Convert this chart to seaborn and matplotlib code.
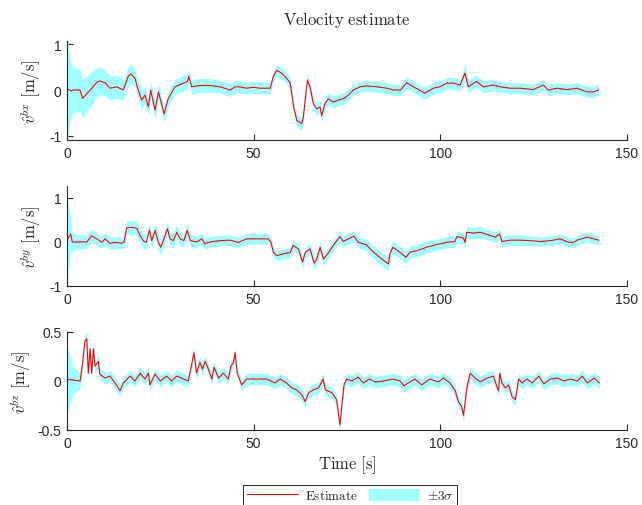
import numpy as np
import pandas as pd
import matplotlib
matplotlib.use("Agg")
import matplotlib.pyplot as plt
import seaborn as sns
from matplotlib.lines import Line2D
from matplotlib.patches import Patch

# ---------------- data ----------------
t_x = [0.0, 0.3, 1.0, 1.7, 3.5, 4.2, 6.2, 7.9, 8.8, 10.2,
       11.5, 13.3, 15.1, 16.4, 17.1, 18.2, 19.1, 20.0, 20.9, 21.8,
       22.4, 23.6, 24.5, 26.0, 27.1, 28.9, 31.2, 32.3, 32.6, 33.4,
       35.6, 38.3, 41.0, 43.7, 45.0, 46.3, 48.1, 49.9, 51.7, 54.4,
       55.3, 56.2, 57.5, 58.8, 59.8, 60.7, 61.6, 62.9, 63.3, 64.1,
       64.4, 65.1, 66.0, 66.9, 67.8, 68.2, 69.1, 70.0, 71.3, 72.7,
       74.0, 75.4, 76.7, 78.5, 80.3, 83.0, 85.7, 87.5, 89.3, 91.0,
       92.8, 95.9, 98.1, 99.9, 101.7, 103.5, 105.3, 106.6, 107.5, 109.7,
       111.5, 114.2, 116.0, 118.6, 121.3, 124.9, 127.6, 128.9, 131.2, 133.9,
       136.6, 139.2, 141.0, 142.4]
v_x = [0.00, 0.02, -0.02, 0.00, 0.00, -0.18, 0.00, 0.16, 0.20, 0.16,
       0.04, 0.07, 0.00, 0.30, 0.35, 0.26, 0.00, -0.22, -0.11, -0.37,
       0.00, -0.44, -0.04, -0.52, -0.19, 0.07, 0.15, 0.19, 0.30, 0.07,
       0.10, 0.10, 0.07, 0.00, 0.07, 0.07, 0.04, 0.06, 0.04, 0.04,
       0.30, 0.43, 0.37, 0.26, 0.15, -0.37, -0.67, -0.73, -0.59, 0.00,
       0.22, 0.07, -0.30, -0.41, -0.37, -0.56, -0.30, -0.19, -0.26, -0.22,
       -0.19, -0.11, 0.00, 0.07, 0.09, 0.07, 0.04, 0.00, 0.00, 0.16,
       0.07, -0.07, 0.04, 0.07, 0.15, 0.15, 0.11, 0.37, 0.07, 0.19,
       0.07, 0.11, 0.07, 0.04, 0.04, 0.01, 0.11, 0.00, 0.04, 0.01,
       0.04, -0.04, -0.04, 0.00]
s_x = [1.25, 1.00, 0.60, 0.50, 0.45, 0.42, 0.36, 0.32, 0.30, 0.28,
       0.27, 0.25, 0.23, 0.22, 0.21, 0.20, 0.20, 0.20, 0.19, 0.19,
       0.19, 0.19, 0.18, 0.18, 0.18, 0.17, 0.17, 0.16, 0.16, 0.16,
       0.15, 0.15, 0.14, 0.14, 0.14, 0.14, 0.13, 0.13, 0.13, 0.13,
       0.13, 0.13, 0.13, 0.13, 0.13, 0.14, 0.15, 0.15, 0.15, 0.14,
       0.14, 0.14, 0.14, 0.14, 0.14, 0.14, 0.14, 0.13, 0.13, 0.13,
       0.13, 0.13, 0.12, 0.12, 0.12, 0.12, 0.12, 0.12, 0.12, 0.13,
       0.12, 0.13, 0.13, 0.13, 0.13, 0.13, 0.13, 0.20, 0.14, 0.13,
       0.13, 0.13, 0.12, 0.12, 0.12, 0.12, 0.12, 0.12, 0.12, 0.12,
       0.12, 0.12, 0.12, 0.12]

t_y = [0.0, 0.3, 1.0, 1.4, 3.5, 5.3, 6.6, 8.0, 9.3, 10.2,
       11.5, 13.3, 14.6, 15.3, 16.0, 17.3, 18.7, 19.6, 20.4, 21.2,
       22.1, 22.7, 23.6, 24.5, 25.1, 25.8, 26.9, 27.6, 28.5, 29.4,
       30.3, 31.3, 32.2, 33.1, 34.7, 36.1, 37.0, 38.3, 41.0, 43.7,
       45.9, 48.1, 50.8, 53.9, 54.6, 55.3, 56.2, 58.0, 59.8, 60.6,
       62.0, 63.1, 63.8, 65.1, 66.2, 66.9, 67.8, 68.7, 70.0, 71.3,
       73.1, 74.0, 75.8, 76.9, 78.0, 80.1, 82.1, 83.9, 86.1, 86.5,
       87.3, 88.3, 89.7, 90.8, 91.9, 93.7, 96.3, 99.0, 101.7, 103.9,
       104.4, 106.2, 106.6, 107.1, 108.9, 110.7, 112.5, 114.7, 115.9, 116.5,
       118.7, 121.4, 124.1, 126.8, 129.5, 132.1, 134.4, 135.7, 136.6, 139.3,
       141.1, 142.5]
v_y = [0.00, 0.09, 0.18, 0.00, 0.00, 0.00, 0.14, 0.07, -0.01, 0.07,
       -0.03, -0.01, -0.03, 0.00, 0.32, 0.33, 0.31, 0.14, 0.03, -0.01,
       0.27, 0.03, 0.26, -0.01, -0.12, 0.03, 0.30, 0.07, 0.03, 0.22,
       0.07, 0.03, 0.26, 0.03, 0.00, 0.07, -0.04, 0.00, 0.03, 0.04,
       -0.01, 0.07, 0.07, 0.07, 0.00, -0.24, -0.31, -0.27, -0.24, -0.08,
       -0.16, -0.46, -0.24, -0.16, -0.48, -0.39, -0.12, -0.39, -0.25, -0.08,
       0.12, 0.01, 0.09, 0.13, -0.01, -0.06, -0.23, -0.36, -0.50, -0.27,
       -0.12, -0.18, -0.27, -0.35, -0.23, -0.20, -0.12, -0.06, -0.01, 0.01,
       0.12, 0.09, -0.01, 0.22, 0.20, 0.22, 0.17, 0.11, 0.18, 0.01,
       0.04, 0.04, 0.03, 0.01, 0.03, 0.07, -0.01, -0.01, 0.04, 0.11,
       0.07, 0.04]
s_y = [1.15, 0.80, 0.40, 0.20, 0.16, 0.15, 0.15, 0.14, 0.14, 0.14,
       0.14, 0.13, 0.13, 0.14, 0.16, 0.16, 0.16, 0.17, 0.17, 0.17,
       0.17, 0.17, 0.17, 0.18, 0.18, 0.17, 0.17, 0.16, 0.16, 0.16,
       0.15, 0.15, 0.15, 0.14, 0.13, 0.13, 0.13, 0.12, 0.12, 0.12,
       0.12, 0.12, 0.12, 0.12, 0.12, 0.12, 0.12, 0.12, 0.12, 0.12,
       0.13, 0.14, 0.13, 0.13, 0.14, 0.14, 0.13, 0.14, 0.13, 0.13,
       0.13, 0.13, 0.13, 0.13, 0.13, 0.13, 0.14, 0.15, 0.16, 0.15,
       0.14, 0.14, 0.14, 0.14, 0.14, 0.14, 0.13, 0.13, 0.13, 0.13,
       0.13, 0.13, 0.13, 0.13, 0.13, 0.13, 0.12, 0.12, 0.12, 0.12,
       0.12, 0.12, 0.11, 0.11, 0.11, 0.11, 0.11, 0.11, 0.11, 0.11,
       0.11, 0.11]

t_z = [0.0, 1.7, 3.5, 4.2, 4.8, 5.3, 5.7, 6.2, 6.6, 7.1,
       7.5, 8.4, 8.8, 10.2, 11.5, 12.9, 14.2, 15.1, 16.9, 18.2,
       19.6, 20.9, 21.8, 22.2, 23.6, 25.0, 26.7, 28.0, 29.4, 31.2,
       32.5, 33.4, 34.0, 34.7, 35.6, 36.3, 37.0, 37.9, 38.8, 39.4,
       40.6, 41.9, 43.2, 43.9, 44.6, 45.0, 45.6, 46.8, 48.1, 50.8,
       53.5, 55.7, 57.1, 58.8, 60.2, 61.5, 62.9, 63.8, 64.7, 66.0,
       67.4, 68.6, 69.2, 71.0, 72.2, 72.7, 73.1, 73.6, 74.2, 74.9,
       76.3, 78.0, 79.4, 81.0, 82.5, 84.7, 87.4, 89.2, 90.3, 91.4,
       93.2, 95.0, 97.2, 99.5, 100.8, 102.6, 104.0, 104.8, 105.7, 106.2,
       106.6, 107.1, 108.0, 109.3, 110.7, 112.5, 114.2, 115.1, 115.6, 115.9,
       116.5, 117.4, 118.3, 119.2, 120.1, 121.0, 121.9, 123.2, 124.6, 126.4,
       127.7, 129.5, 131.3, 133.1, 134.9, 136.7, 138.0, 139.4, 141.2, 142.6]
v_z = [0.015, 0.01, 0.00, 0.19, 0.41, 0.43, 0.08, 0.33, 0.08, 0.33,
       0.15, 0.20, 0.07, 0.03, 0.05, -0.02, -0.10, -0.02, 0.05, 0.00,
       0.08, 0.02, 0.08, -0.04, 0.07, 0.00, 0.05, 0.00, 0.05, 0.02,
       0.00, 0.17, 0.29, 0.08, 0.19, 0.12, 0.20, 0.12, 0.02, 0.14,
       0.03, 0.08, 0.02, 0.15, 0.19, 0.29, 0.08, -0.04, 0.02, 0.02,
       0.02, -0.02, 0.02, -0.02, -0.07, -0.09, -0.14, -0.21, -0.12, -0.09,
       -0.07, 0.02, -0.09, -0.12, -0.19, -0.33, -0.45, -0.26, -0.04, 0.02,
       0.00, 0.04, -0.02, 0.02, -0.01, 0.00, 0.02, 0.00, -0.05, -0.02,
       0.02, -0.04, 0.02, -0.01, 0.03, -0.02, -0.10, -0.21, -0.26, -0.35,
       -0.23, -0.07, 0.08, 0.03, -0.01, 0.03, 0.05, -0.05, -0.10, 0.08,
       -0.02, -0.07, -0.04, -0.16, -0.19, 0.02, -0.02, 0.02, -0.02, 0.05,
       -0.03, 0.02, 0.03, 0.00, 0.02, 0.00, 0.05, -0.02, 0.03, -0.02]
s_z = [0.35, 0.14, 0.08, 0.07, 0.07, 0.07, 0.07, 0.07, 0.07, 0.07,
       0.07, 0.07, 0.06, 0.06, 0.06, 0.06, 0.06, 0.06, 0.06, 0.06,
       0.06, 0.06, 0.06, 0.06, 0.06, 0.06, 0.06, 0.06, 0.06, 0.06,
       0.06, 0.06, 0.06, 0.06, 0.06, 0.06, 0.06, 0.06, 0.06, 0.06,
       0.06, 0.06, 0.06, 0.06, 0.06, 0.06, 0.06, 0.06, 0.06, 0.06,
       0.06, 0.06, 0.06, 0.06, 0.06, 0.06, 0.06, 0.06, 0.06, 0.06,
       0.06, 0.06, 0.06, 0.06, 0.06, 0.06, 0.07, 0.06, 0.06, 0.06,
       0.06, 0.06, 0.06, 0.06, 0.06, 0.06, 0.06, 0.06, 0.06, 0.06,
       0.06, 0.06, 0.06, 0.06, 0.06, 0.06, 0.06, 0.06, 0.06, 0.07,
       0.06, 0.06, 0.06, 0.06, 0.06, 0.06, 0.06, 0.06, 0.06, 0.06,
       0.06, 0.06, 0.06, 0.06, 0.06, 0.06, 0.06, 0.06, 0.06, 0.06,
       0.06, 0.06, 0.06, 0.06, 0.06, 0.06, 0.06, 0.06, 0.06, 0.06]

y_labels = [r"$\hat{v}^{bx}\ [\mathrm{m/s}]$",
            r"$\hat{v}^{by}\ [\mathrm{m/s}]$",
            r"$\hat{v}^{bz}\ [\mathrm{m/s}]$"]
y_ticks = [[-1, 0, 1], [-1, 0, 1], [-0.5, 0, 0.5]]
y_tick_labels = [["-1", "0", "1"], ["-1", "0", "1"], ["-0.5", "0", "0.5"]]
y_limits = [(-1.09, 1.07), (-1.0, 1.27), (-0.5, 0.5)]
x_ticks = [0, 50, 100, 150]
x_tick_labels = ["0", "50", "100", "150"]
title_text = r"$\mathrm{Velocity\ estimate}$"
x_label = r"$\mathrm{Time\ [s]}$"
legend_labels = [r"$\mathrm{Estimate}$", r"$\pm 3\sigma$"]

series = [(t_x, v_x, s_x), (t_y, v_y, s_y), (t_z, v_z, s_z)]

# ---------------- style ----------------
sns.set_theme(style="white")
plt.rcParams["font.family"] = ["Liberation Sans", "DejaVu Sans"]
plt.rcParams["mathtext.fontset"] = "cm"
plt.rcParams["axes.unicode_minus"] = False

dark = "#262626"
line_col = "#ff0000"
band_col = "#a0ffff"

fig = plt.figure(figsize=(6.42, 5.06), dpi=100)
W, H = 642.0, 506.0
boxes = [(42, 141), (187, 287), (333, 431)]
label_right_px = [43, 43, 33]
axes = []
for (top, bot) in boxes:
    ax = fig.add_axes([67 / W, 1 - bot / H, 560 / W, (bot - top) / H])
    axes.append(ax)

for i, ax in enumerate(axes):
    t, v, s = series[i]
    df = pd.DataFrame({"t": t, "v": v, "s": s})
    df["lo"] = df["v"] - df["s"]
    df["hi"] = df["v"] + df["s"]
    ax.fill_between(df["t"], df["lo"], df["hi"], color=band_col, lw=0, zorder=1)
    sns.lineplot(data=df, x="t", y="v", ax=ax, color=line_col, lw=0.8,
                 estimator=None, sort=False, zorder=2)
    ax.set_xlim(0, 150)
    ax.set_ylim(*y_limits[i])
    ax.set_xticks(x_ticks, labels=x_tick_labels)
    ax.set_yticks(y_ticks[i], labels=y_tick_labels[i])
    ax.set_xlabel("")
    ax.set_ylabel(y_labels[i], fontsize=12, color=dark)
    ax.yaxis.set_label_coords((label_right_px[i] - 67) / 560.0, 0.5)
    for side in ["top", "right"]:
        ax.spines[side].set_visible(False)
    for side in ["left", "bottom"]:
        ax.spines[side].set_color(dark)
        ax.spines[side].set_linewidth(0.8)
    ax.tick_params(direction="in", length=4, width=0.8, colors=dark,
                   labelsize=10, pad=4, bottom=True, left=True)
    ax.set_facecolor("white")

axes[0].set_title(title_text, fontsize=12, color=dark, pad=12)
axes[2].set_xlabel(x_label, fontsize=12, color=dark, labelpad=3)

handles = [Line2D([0], [0], color=line_col, lw=0.8),
           Patch(facecolor=band_col, edgecolor="none")]
leg = fig.legend(handles, legend_labels, loc="upper left",
                 bbox_to_anchor=(243 / W, 1 - 486 / H), ncol=2,
                 fontsize=9.5, frameon=True, fancybox=False,
                 borderaxespad=0.0,
                 handlelength=3.9, handleheight=1.0, columnspacing=0.8,
                 handletextpad=0.5, borderpad=0.3)
leg.get_frame().set_edgecolor(dark)
leg.get_frame().set_linewidth(0.7)
leg.get_frame().set_alpha(1)

fig.savefig("out.png", dpi=100, facecolor="white")
